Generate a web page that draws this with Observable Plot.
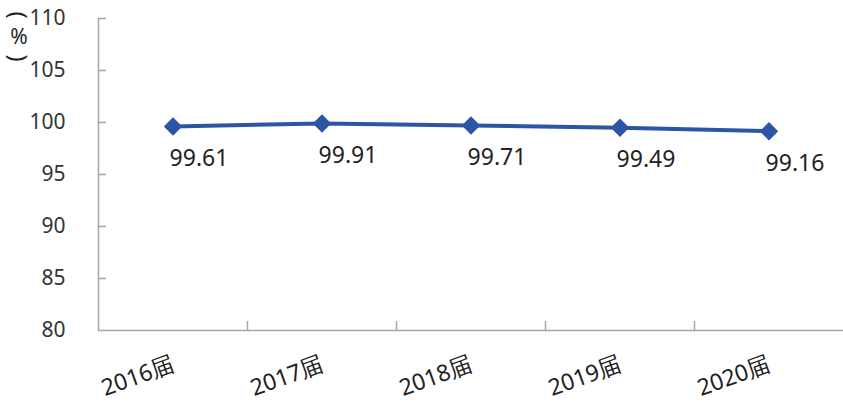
<!DOCTYPE html>
<html>
<head>
<meta charset="utf-8">
<script src="https://cdn.jsdelivr.net/npm/d3@7"></script>
<script src="https://cdn.jsdelivr.net/npm/@observablehq/plot@0.6"></script>
<style>
  html, body { margin: 0; padding: 0; background: #fff; }
  #wrap { position: relative; width: 843px; height: 403px; }
  .yl {
    position: absolute; line-height: 1; color: #222;
    font-family: "Noto Sans", sans-serif; white-space: nowrap;
  }
  .yl.par { font-size: 24px; }
  .yl.pct { font-size: 21px; left: 19px; top: 36px; transform: translate(-50%, -50%); }
  .yl.open { left: 19px; top: 15px; transform: translate(-50%, -50%) rotate(90deg); }
  .yl.close { left: 19px; top: 58px; transform: translate(-50%, -50%) rotate(90deg); }
</style>
</head>
<body>
<div id="wrap">
  <div class="yl par open">(</div>
  <div class="yl pct">%</div>
  <div class="yl par close">)</div>
</div>
<script>
const categories = ["2016届", "2017届", "2018届", "2019届", "2020届"];
const values = [99.61, 99.91, 99.71, 99.49, 99.16];
const yTicks = [80, 85, 90, 95, 100, 105, 110];
const yDomain = [80, 110];

const data = categories.map((c, i) => ({i, c, v: values[i]}));
const boundaries = d3.range(0.5, categories.length - 1, 1);
const blue = "#2C55A5";
const axisGray = "#A6A6A6";
const font = "'Noto Sans', sans-serif";

const chart = Plot.plot({
  width: 843,
  height: 403,
  marginLeft: 98,
  marginRight: 0,
  marginTop: 18,
  marginBottom: 73,
  style: {fontFamily: font, background: "#fff", overflow: "visible"},
  x: {domain: [-0.5, categories.length - 0.5], axis: null},
  y: {domain: yDomain, axis: null},
  marks: [
    Plot.ruleX([yDomain[0]], {x: -0.5, stroke: axisGray, strokeWidth: 1.5}),
    Plot.ruleY([yDomain[0]], {stroke: axisGray, strokeWidth: 1.5}),
    Plot.ruleY(yTicks.slice(1), {x1: -0.5, x2: -0.5, insetRight: -8, stroke: axisGray, strokeWidth: 1.5}),
    Plot.ruleX(boundaries, {y1: yDomain[0], y2: yDomain[0], insetTop: -9, stroke: axisGray, strokeWidth: 1.5}),
    Plot.text(yTicks, {y: d => d, frameAnchor: "left", dx: -33, textAnchor: "end", text: d => String(d), fontSize: 21, fill: "#333"}),
    Plot.text(data, {x: "i", frameAnchor: "bottom", dy: 40, dx: 3, rotate: -20, textAnchor: "end", lineAnchor: "bottom", text: "c", fontSize: 23, fill: "#222"}),
    Plot.line(data, {x: "i", y: "v", stroke: blue, strokeWidth: 4}),
    Plot.dot(data, {x: "i", y: "v", symbol: "diamond2", r: 8.3, fill: blue, stroke: "none"}),
    Plot.text(data, {x: "i", y: "v", text: d => d.v.toFixed(2), dx: 26, dy: 32, fontSize: 23, fill: "#222"})
  ]
});
document.getElementById("wrap").prepend(chart);
</script>
</body>
</html>
